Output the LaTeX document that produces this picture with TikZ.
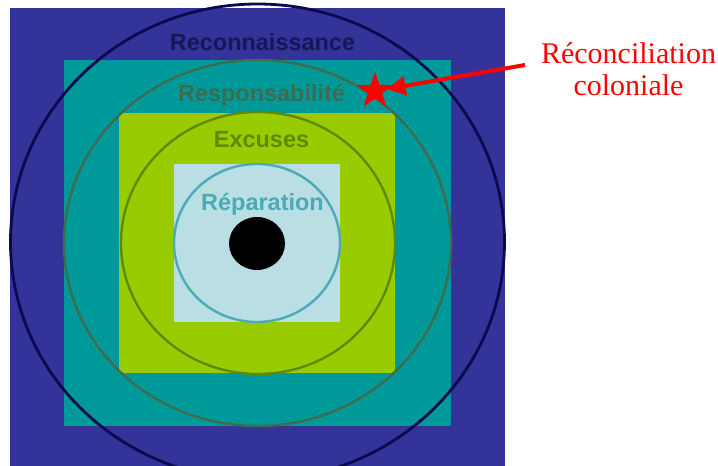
\documentclass[tikz,border=0pt]{standalone}
\usepackage{fontspec}
\setmainfont{Liberation Serif}
\setsansfont{Liberation Sans}
\usetikzlibrary{arrows.meta,shapes.geometric}
\definecolor{DeepIndigo}{RGB}{51,51,153}
\definecolor{NightBlue}{RGB}{10,10,80}
\definecolor{DeepTeal}{RGB}{0,153,153}
\definecolor{MossGrey}{RGB}{62,108,78}
\definecolor{LimeGreen}{RGB}{153,204,0}
\definecolor{OliveDark}{RGB}{94,138,0}
\definecolor{PaleCyan}{RGB}{185,222,228}
\definecolor{SeaCyan}{RGB}{75,170,182}
\definecolor{TextNavy}{RGB}{22,22,88}
\tikzset{
  ring/.style={line width=1.8pt},
  ringlabel/.style={font=\sffamily\bfseries\fontsize{17.6}{20}\selectfont,
    inner sep=0pt,anchor=base},
  redstar/.style={star,star points=5,star point ratio=2.5,fill=red,
    inner sep=0pt,minimum size=28.5pt},
  redarrow/.style={-{Triangle[length=14pt,width=14pt]},line width=3pt,red}
}

\begin{document}
\begin{tikzpicture}[x=0.75pt,y=-0.75pt]
  \useasboundingbox (0,0) rectangle (718,465);
  \fill[DeepIndigo] (10,8) rectangle (505,470);
  \fill[DeepTeal] (64,60) rectangle (451,426);
  \fill[LimeGreen] (119,113) rectangle (395,373);
  \fill[PaleCyan] (174,164) rectangle (340,322);
  \draw[ring,NightBlue,line width=2.1pt] (257.5,242) ellipse [x radius=247,y radius=238];
  \draw[ring,MossGrey] (257.5,243) ellipse [x radius=193.5,y radius=183];
  \draw[ring,OliveDark] (258,243) ellipse [x radius=137,y radius=131];
  \draw[ring,SeaCyan] (257,243) ellipse [x radius=83,y radius=79];
  \fill[black] (257,243.5) ellipse [x radius=28,y radius=26.5];
  \node[ringlabel,text=TextNavy] (reco) at (262.5,50) {Reconnaissance};
  \node[ringlabel,text=MossGrey] (resp) at (261.5,101) {Responsabilité};
  \node[ringlabel,text=OliveDark] (excu) at (261.5,147) {Excuses};
  \node[ringlabel,text=SeaCyan] (repa) at (262.5,210) {Réparation};
  \node[redstar] (star) at (375,91) {};
  \node[font=\fontsize{22.5}{24}\selectfont,text=red,align=center,
    inner sep=0pt] (recon) at (628.5,69) {Réconciliation\\coloniale};
  \coordinate (tail) at (525,65);
  \draw[redarrow,shorten >=9pt] (tail) -- (star.center);
\end{tikzpicture}
\end{document}
